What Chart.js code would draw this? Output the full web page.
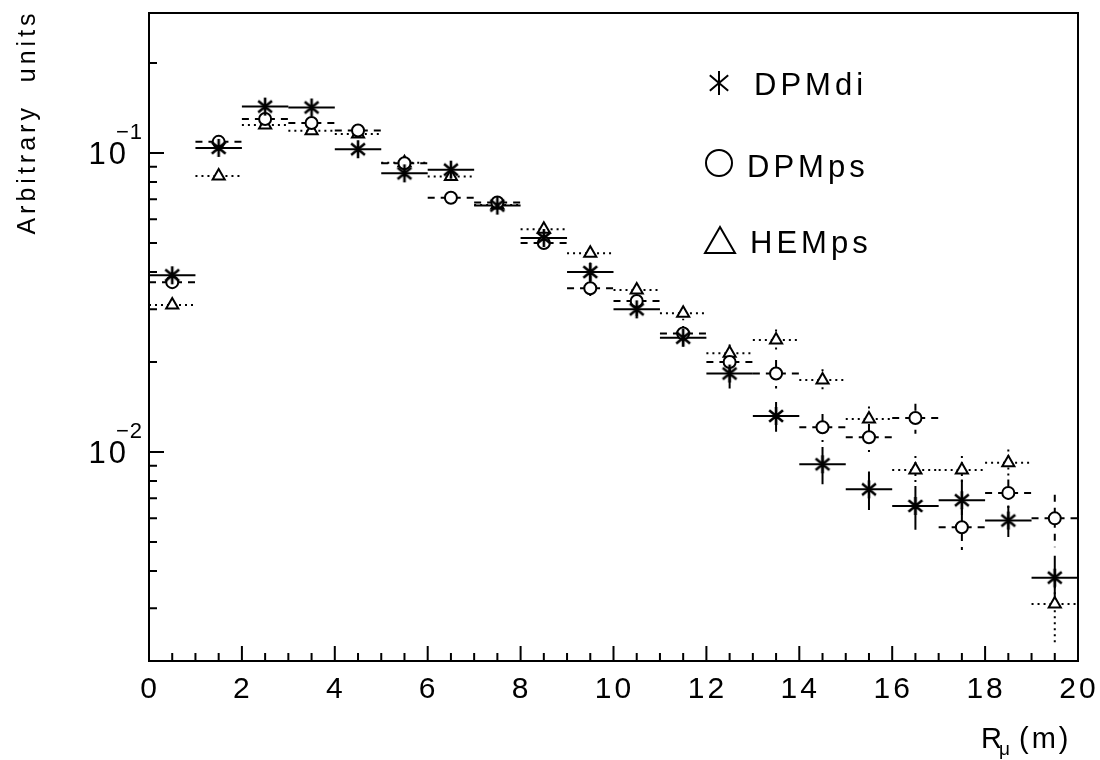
<!DOCTYPE html>
<html lang="en">
<head>
    <meta charset="UTF-8">
    <title>Muon lateral distribution</title>
    <script src="https://cdn.jsdelivr.net/npm/chart.js"></script>
    <style>
        body { margin: 0; background: #fff; }
        #chart { display: block; }
    </style>
</head>
<body>
    <canvas id="chart" width="1100" height="760"></canvas>
    <script>
        // bin centres (m), each bin is 1 m wide
        const binCenters = [0.5, 1.5, 2.5, 3.5, 4.5, 5.5, 6.5, 7.5, 8.5, 9.5,
                            10.5, 11.5, 12.5, 13.5, 14.5, 15.5, 16.5, 17.5, 18.5, 19.5];
        const binWidth = 1;

        const dpmdi = [0.039, 0.104, 0.143, 0.142, 0.103, 0.0855, 0.088, 0.0667, 0.052, 0.040,
                       0.030, 0.0241, 0.0183, 0.0132, 0.0091, 0.0075, 0.0066, 0.0069, 0.0059, 0.0038];
        const dpmdiErr = [0.001, 0.002, 0.002, 0.002, 0.002, 0.002, 0.002, 0.0015, 0.0015, 0.003,
                          0.0015, 0.0015, 0.002, 0.0015, 0.0013, 0.0011, 0.0011, 0.0012, 0.0007, 0.0007];

        const dpmps = [0.037, 0.109, 0.130, 0.126, 0.119, 0.0924, 0.0709, 0.0683, 0.050, 0.0353,
                       0.032, 0.0249, 0.020, 0.0183, 0.0121, 0.0112, 0.0130, 0.0056, 0.0073, 0.0060];
        const dpmpsErr = [0.001, 0.002, 0.002, 0.002, 0.002, 0.002, 0.0015, 0.0015, 0.0015, 0.0035,
                          0.0015, 0.0015, 0.0015, 0.002, 0.0013, 0.0012, 0.0015, 0.0009, 0.0008, 0.0012];

        const hemps = [0.031, 0.0838, 0.124, 0.1187, 0.1157, 0.0928, 0.0834, 0.067, 0.0556, 0.0462,
                       0.0348, 0.0291, 0.0214, 0.0237, 0.0174, 0.0129, 0.0087, 0.0087, 0.0092, 0.0031];
        const hempsErr = [0.001, 0.002, 0.002, 0.002, 0.002, 0.002, 0.002, 0.0015, 0.0015, 0.002,
                          0.0015, 0.0015, 0.0015, 0.002, 0.0015, 0.0013, 0.001, 0.001, 0.001, 0.0008];

        const seriesNames = ['DPMdi', 'DPMps', 'HEMps'];
        const xTickLabels = ['0', '2', '4', '6', '8', '10', '12', '14', '16', '18', '20'];
        const yTickLabels = [{ base: '10', exp: '-1', value: 0.1 }, { base: '10', exp: '-2', value: 0.01 }];

        const FONT = '"Liberation Sans", Arial, sans-serif';

        function drawAsterisk(ctx, x, y, r, lw) {
            ctx.save();
            ctx.lineWidth = lw;
            ctx.strokeStyle = '#000';
            ctx.setLineDash([]);
            ctx.beginPath();
            ctx.moveTo(x, y - r);
            ctx.lineTo(x, y + r);
            const a = 40 * Math.PI / 180;
            const dx = r * Math.cos(a), dy = r * Math.sin(a);
            ctx.moveTo(x - dx, y - dy);
            ctx.lineTo(x + dx, y + dy);
            ctx.moveTo(x - dx, y + dy);
            ctx.lineTo(x + dx, y - dy);
            ctx.stroke();
            ctx.restore();
        }

        // marker image for the asterisk series
        const starImg = document.createElement('canvas');
        starImg.width = 22;
        starImg.height = 22;
        drawAsterisk(starImg.getContext('2d'), 11, 11, 9, 2.6);

        function toPoints(values) {
            return binCenters.map((x, i) => ({ x: x, y: values[i] }));
        }

        const errBars = {
            id: 'errBars',
            beforeDatasetsDraw(chart) {
                const ctx = chart.ctx;
                const xs = chart.scales.x, ys = chart.scales.y;
                const styles = [
                    { vals: dpmdi, err: dpmdiErr, dash: [] },
                    { vals: dpmps, err: dpmpsErr, dash: [7, 6] },
                    { vals: hemps, err: hempsErr, dash: [2, 4] }
                ];
                ctx.save();
                ctx.strokeStyle = '#000';
                ctx.lineWidth = 2;
                styles.forEach(s => {
                    ctx.setLineDash(s.dash);
                    binCenters.forEach((c, i) => {
                        const py = ys.getPixelForValue(s.vals[i]);
                        const px = xs.getPixelForValue(c);
                        ctx.beginPath();
                        ctx.moveTo(xs.getPixelForValue(c - binWidth / 2), py);
                        ctx.lineTo(xs.getPixelForValue(c + binWidth / 2), py);
                        ctx.moveTo(px, ys.getPixelForValue(s.vals[i] + s.err[i]));
                        ctx.lineTo(px, ys.getPixelForValue(Math.max(s.vals[i] - s.err[i], 0.0021)));
                        ctx.stroke();
                    });
                });
                ctx.restore();
            }
        };

        const frame = {
            id: 'frame',
            afterDraw(chart) {
                const ctx = chart.ctx;
                const a = chart.chartArea;
                const xs = chart.scales.x, ys = chart.scales.y;
                ctx.save();
                ctx.strokeStyle = '#000';
                ctx.fillStyle = '#000';
                ctx.setLineDash([]);
                ctx.lineWidth = 2;
                ctx.strokeRect(a.left, a.top, a.right - a.left, a.bottom - a.top);

                // x ticks, pointing into the plot
                ctx.beginPath();
                for (let v = 0; v <= 20; v += 0.5) {
                    const px = xs.getPixelForValue(v);
                    const len = (v % 2 === 0) ? 15 : 8;
                    ctx.moveTo(px, a.bottom);
                    ctx.lineTo(px, a.bottom - len);
                }
                // y ticks
                for (let e = -3; e <= -1; e++) {
                    for (let m = 1; m <= 9; m++) {
                        const v = m * Math.pow(10, e);
                        if (v < ys.min || v > ys.max) continue;
                        const py = ys.getPixelForValue(v);
                        ctx.moveTo(a.left, py);
                        ctx.lineTo(a.left + (m === 1 ? 15 : 8), py);
                    }
                }
                ctx.stroke();

                // x tick labels
                ctx.font = '30px ' + FONT;
                ctx.letterSpacing = '3px';
                ctx.textAlign = 'center';
                ctx.textBaseline = 'alphabetic';
                xTickLabels.forEach(t => {
                    ctx.fillText(t, xs.getPixelForValue(Number(t)) + 1, 698);
                });

                // y tick labels with superscript exponent
                yTickLabels.forEach(t => {
                    const py = ys.getPixelForValue(t.value);
                    ctx.font = '31px ' + FONT;
                    ctx.letterSpacing = '3px';
                    ctx.textAlign = 'right';
                    ctx.fillText(t.base, 129, py + 11);
                    ctx.font = '22px ' + FONT;
                    ctx.letterSpacing = '1px';
                    ctx.textAlign = 'left';
                    ctx.fillText(t.exp.replace('-', '\u2212'), 116, py - 14);
                });

                // axis titles
                ctx.save();
                ctx.translate(35, 122);
                ctx.rotate(-Math.PI / 2);
                ctx.font = '25px ' + FONT;
                ctx.letterSpacing = '4px';
                ctx.textAlign = 'center';
                ctx.fillText('Arbitrary  units', 0, 0);
                ctx.restore();

                ctx.letterSpacing = '3px';
                ctx.textAlign = 'left';
                ctx.font = '29px ' + FONT;
                ctx.fillText('R', 981, 748);
                ctx.font = '19px ' + FONT;
                ctx.fillText('\u03bc', 999, 755);
                ctx.font = '29px ' + FONT;
                ctx.fillText('(m)', 1019, 748);

                // legend
                ctx.letterSpacing = '4px';
                ctx.font = '31px ' + FONT;
                drawAsterisk(ctx, 719, 83, 12, 2);
                ctx.fillText(seriesNames[0], 754, 95);
                ctx.lineWidth = 2;
                ctx.beginPath();
                ctx.arc(719, 163, 13, 0, Math.PI * 2);
                ctx.stroke();
                ctx.fillText(seriesNames[1], 747, 177);
                ctx.beginPath();
                ctx.moveTo(720, 227);
                ctx.lineTo(735, 253);
                ctx.lineTo(705, 253);
                ctx.closePath();
                ctx.stroke();
                ctx.fillText(seriesNames[2], 750, 253);
                ctx.restore();
            }
        };

        new Chart(document.getElementById('chart'), {
            type: 'scatter',
            data: {
                datasets: [
                    {
                        label: seriesNames[0],
                        data: toPoints(dpmdi),
                        pointStyle: starImg,
                        pointRadius: 9
                    },
                    {
                        label: seriesNames[1],
                        data: toPoints(dpmps),
                        pointStyle: 'circle',
                        pointRadius: 6,
                        pointBorderWidth: 2,
                        pointBorderColor: '#000',
                        pointBackgroundColor: '#fff'
                    },
                    {
                        label: seriesNames[2],
                        data: toPoints(hemps),
                        pointStyle: 'triangle',
                        pointRadius: 7,
                        pointBorderWidth: 2,
                        pointBorderColor: '#000',
                        pointBackgroundColor: '#fff'
                    }
                ]
            },
            options: {
                responsive: false,
                animation: false,
                layout: { padding: { left: 149, right: 22, top: 13, bottom: 99 } },
                plugins: { legend: { display: false }, tooltip: { enabled: false } },
                scales: {
                    x: { type: 'linear', min: 0, max: 20, display: false },
                    y: { type: 'logarithmic', min: 0.002, max: 0.294, display: false }
                }
            },
            plugins: [errBars, frame]
        });
    </script>
</body>
</html>
